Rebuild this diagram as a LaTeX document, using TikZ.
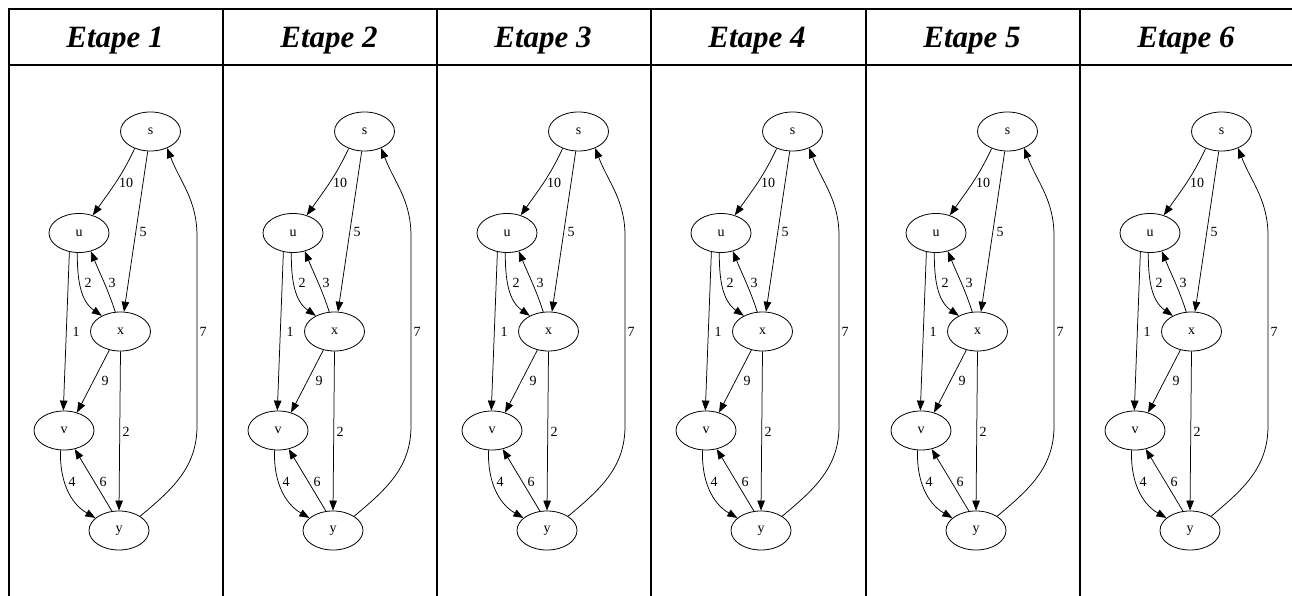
\documentclass[tikz,border=0pt]{standalone}
\usepackage{fontspec}
\setmainfont{Liberation Serif}
\usetikzlibrary{arrows.meta,shapes.geometric}
\begin{document}
\begin{tikzpicture}[x=1pt,y=1pt,
  vertex/.style={draw, ellipse, line width=0.8pt, minimum width=60pt,
    minimum height=39pt, inner sep=0pt, font=\fontsize{14}{14}\selectfont},
  edge/.style={line width=0.75pt, -{Triangle[length=10pt,width=7.5pt]}},
  wt/.style={inner sep=0pt, font=\fontsize{14}{14}\selectfont},
  grid/.style={line width=1.5pt},
  head/.style={font=\fontsize{31}{31}\selectfont\bfseries\itshape, anchor=base}]
\useasboundingbox (0,0) rectangle (1292,596);

% table frame
\draw[grid] (1300,587) -- (9,587) -- (9,-5);
\draw[grid] (9,531) -- (1300,531);
\foreach \L in {223,437,651,866,1080}
  \draw[grid] (\L,587) -- (\L,-5);

% one graph per column
\foreach \L [count=\i] in {9,223,437,651,866,1080} {
  \begin{scope}[shift={(\L,0)}]
    \node[head] (h\i) at (106,548) {Etape \i};

    \node[vertex] (s\i) at (141.5,464.5) {s};
    \node[vertex] (u\i) at (70,363) {u};
    \node[vertex] (x\i) at (111.5,264.5) {x};
    \node[vertex] (v\i) at (55,165.5) {v};
    \node[vertex] (y\i) at (110,65.5) {y};

    \draw[edge] (s\i.227) to[out=245,in=55] (u\i.52);
    \draw[edge] (s\i.262) -- (x\i.80);
    \draw[edge] (u\i.265) to[out=270,in=145] (x\i.140);
    \draw[edge] (x\i.105) to[out=108,in=292] (u\i.303);
    \draw[edge] (u\i.243) -- (v\i.92);
    \draw[edge] (x\i.239) -- (v\i.54);
    \draw[edge] (x\i.270) -- (y\i.90);
    \draw[edge] (v\i.260) to[out=268,in=150] (y\i.152);
    \draw[edge] (y\i.110) -- (v\i.300);
    \coordinate (a\i) at (188,170);
    \coordinate (b\i) at (188,360);
    \draw[edge] (y\i.34) to[out=40,in=270] (a\i) -- (b\i) to[out=90,in=291] (s\i.315);

    \node[wt] (w10\i) at (117,413) {10};
    \node[wt] (w5\i)  at (134,364) {5};
    \node[wt] (w2a\i) at (79,313) {2};
    \node[wt] (w3\i)  at (103,313) {3};
    \node[wt] (w1\i)  at (67,264) {1};
    \node[wt] (w9\i)  at (96,215) {9};
    \node[wt] (w2b\i) at (117,164) {2};
    \node[wt] (w4\i)  at (63,114) {4};
    \node[wt] (w6\i)  at (94,114) {6};
    \node[wt] (w7\i)  at (194,264) {7};
  \end{scope}
}
\end{tikzpicture}
\end{document}
